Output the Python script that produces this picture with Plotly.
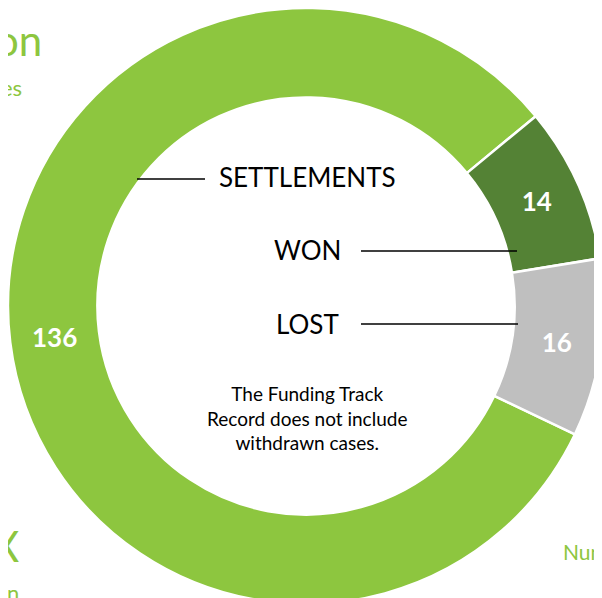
import plotly.graph_objects as go

# dados do gráfico
outcomes = ['Settlements', 'Won', 'Lost']
cases = [136, 14, 16]
slice_colors = ['#8DC63F', '#548235', '#BFBFBF']

W, H = 602, 598
OFF = 8  # margem padrão do <body> no navegador
GREEN = '#8DC63F'
FONT = 'Lato'


# converte posição na página (pixels) para coordenadas "paper"
def px(x):
    return (x - OFF) / W


def py(y):
    return 1 - (y - OFF) / H


fig = go.Figure()

fig.add_trace(go.Pie(
    labels=outcomes,
    values=cases,
    hole=0.70,
    sort=False,
    direction='clockwise',
    rotation=115.5,
    marker=dict(colors=slice_colors, line=dict(color='white', width=2.5)),
    textinfo='value',
    textposition='inside',
    insidetextorientation='horizontal',
    textfont=dict(family=FONT, size=26, color='white', weight='bold'),
    showlegend=False,
    domain=dict(x=[0, 596 / W], y=[2 / H, 1]),
))

# rótulos centrais com linhas
labels_center = [('SETTLEMENTS', 177), ('WON', 250), ('LOST', 324)]
annotations = []
for txt, y in labels_center:
    annotations.append(dict(text=txt, x=px(307), y=py(y), xref='paper', yref='paper',
                            showarrow=False, xanchor='center', yanchor='middle',
                            font=dict(family=FONT, size=26, color='#000000')))

annotations.append(dict(
    text='The Funding Track<br>Record does not include<br>withdrawn cases.',
    x=px(307), y=py(418), xref='paper', yref='paper', showarrow=False,
    xanchor='center', yanchor='middle', align='center',
    font=dict(family=FONT, size=19, color='#000000')))

# fragmentos de texto cortados nas bordas
fragments = [
    ('on', 44, 40, 42),
    ('es', 24, 87, 22),
    ('X', 21, 546, 42),
    ('n', 21, 592, 22),
]
for txt, xr, yc, sz in fragments:
    annotations.append(dict(text=txt, x=px(xr), y=py(yc), xref='paper', yref='paper',
                            showarrow=False, xanchor='right', yanchor='middle',
                            font=dict(family=FONT, size=sz, color=GREEN)))
annotations.append(dict(text='Nun', x=px(561), y=py(551), xref='paper', yref='paper',
                        showarrow=False, xanchor='left', yanchor='middle',
                        font=dict(family=FONT, size=21, color=GREEN)))

shapes = [
    dict(type='line', xref='paper', yref='paper', x0=px(137), x1=px(205), y0=py(179), y1=py(179),
         line=dict(color='black', width=1.5)),
    dict(type='line', xref='paper', yref='paper', x0=px(361), x1=px(517), y0=py(251), y1=py(251),
         line=dict(color='black', width=1.5)),
    dict(type='line', xref='paper', yref='paper', x0=px(361), x1=px(518), y0=py(324), y1=py(324),
         line=dict(color='black', width=1.5)),
]

fig.update_layout(width=W, height=H,
    paper_bgcolor='white',
    plot_bgcolor='white',
    margin=dict(l=0, r=0, t=0, b=0),
    annotations=annotations,
    shapes=shapes,
)

fig.write_html("out.html")
